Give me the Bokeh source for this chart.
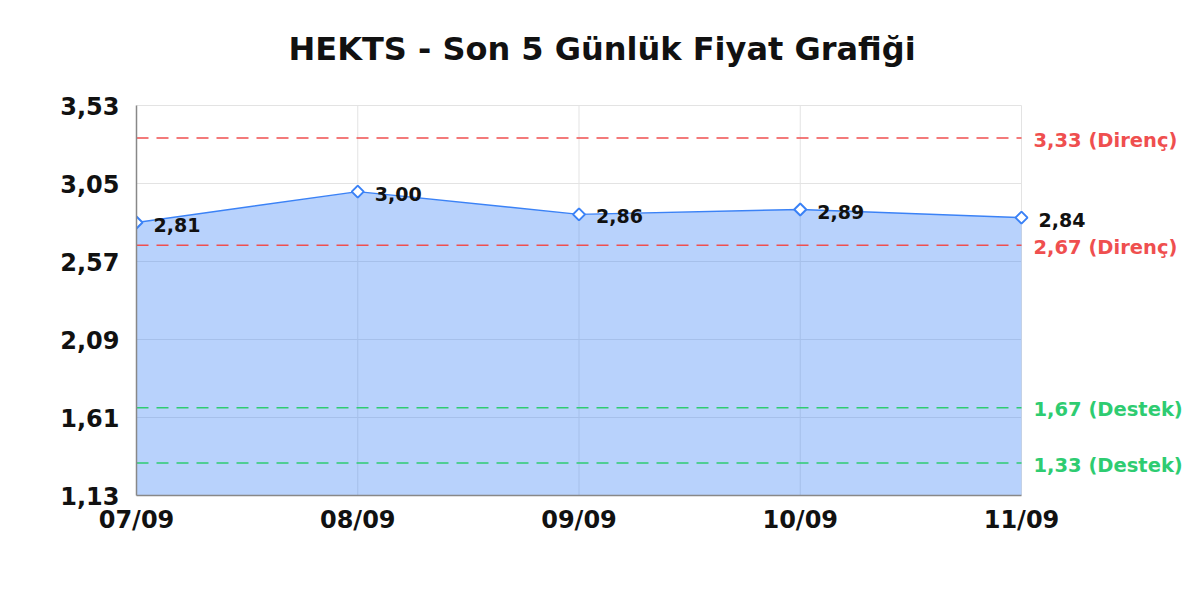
from bokeh.plotting import figure
from bokeh.models import (Range1d, FixedTicker, CustomJSTickFormatter, Label,
                          LabelSet, ColumnDataSource)
from bokeh.core.properties import value
from bokeh.embed import file_html
from bokeh.resources import INLINE
import numpy as np

# ---- data ----
title_text = "HEKTS - Son 5 Günlük Fiyat Grafiği"
dates = ["07/09", "08/09", "09/09", "10/09", "11/09"]
prices = [2.81, 3.00, 2.86, 2.89, 2.84]
y_ticks = [1.13, 1.61, 2.09, 2.57, 3.05, 3.53]
resistance_levels = [3.33, 2.67]
support_levels = [1.67, 1.33]

FONT = "DejaVu Sans"
BLUE = "#3b82f6"
RED = "#ef4f4f"
GREEN = "#2ecc71"
GRID = "#e3e3e3"

W, H = 1192, 592
LEFT = 136
PLOT_RIGHT = 1021     # pixel where the last date sits
PLOT_TOP = 105        # pixel where the top tick sits
BOTTOM = 97
PLOT_BOTTOM = H - BOTTOM

x = list(range(len(dates)))
ymin, ymax = y_ticks[0], y_ticks[-1]
x0, x1 = x[0], x[-1]
# frame extends to the figure's right and top edges so outer texts are not clipped
x_end = x0 + (x1 - x0) * (W - LEFT) / (PLOT_RIGHT - LEFT)
y_end = ymin + (ymax - ymin) * PLOT_BOTTOM / (PLOT_BOTTOM - PLOT_TOP)

p = figure(width=W, height=H, output_backend="svg", toolbar_location=None,
           x_range=Range1d(x0, x_end), y_range=Range1d(ymin, y_end),
           min_border_left=LEFT, min_border_right=0, min_border_top=0,
           min_border_bottom=BOTTOM)
p.title = None
p.outline_line_color = None
p.background_fill_color = "white"

# grid lines limited to the data span
p.segment(x0=[x0] * len(y_ticks), x1=[x1] * len(y_ticks), y0=y_ticks, y1=y_ticks,
          line_color=GRID, line_width=1)
p.segment(x0=x, x1=x, y0=[ymin] * len(x), y1=[ymax] * len(x),
          line_color=GRID, line_width=1)

# area + line
p.varea(x=x, y1=[ymin] * len(x), y2=prices, fill_color=BLUE, fill_alpha=0.36)
p.line(x, prices, line_color=BLUE, line_width=1.5)

# reference lines
for lvl in resistance_levels:
    p.line([x0, x1], [lvl, lvl], line_color=RED, line_width=1.5, line_dash="12 8")
    p.add_layout(Label(x=x1, y=lvl, x_offset=12, y_offset=-2,
                       text=f"{lvl:.2f}".replace(".", ",") + " (Direnç)",
                       text_baseline="middle", text_align="left", text_font=FONT,
                       text_font_style="bold", text_font_size="19.5px", text_color=RED))
for lvl in support_levels:
    p.line([x0, x1], [lvl, lvl], line_color=GREEN, line_width=1.5, line_dash="12 8")
    p.add_layout(Label(x=x1, y=lvl, x_offset=12, y_offset=-2,
                       text=f"{lvl:.2f}".replace(".", ",") + " (Destek)",
                       text_baseline="middle", text_align="left", text_font=FONT,
                       text_font_style="bold", text_font_size="19.5px", text_color=GREEN))

# markers
p.scatter(x, prices, marker="square", angle=np.pi / 4, size=8.5,
          fill_color="white", line_color=BLUE, line_width=2)

# data labels
src = ColumnDataSource(dict(x=x, y=prices,
                            t=[f"{v:.2f}".replace(".", ",") for v in prices]))
p.add_layout(LabelSet(x="x", y="y", text="t", source=src, x_offset=17, y_offset=-2,
                      text_baseline="middle", text_align="left",
                      text_font=value(FONT), text_font_style="bold",
                      text_font_size="19px", text_color="#111111"))

# title (inside the extended frame, above the plot area)
p.add_layout(Label(x=x0, y=ymax, x_offset=288 - LEFT, y_offset=57,
                   text=title_text, text_align="left", text_baseline="middle",
                   text_font=FONT, text_font_style="bold", text_font_size="32px",
                   text_color="#111111"))

# axes
p.xaxis.ticker = FixedTicker(ticks=x)
p.xaxis.major_label_overrides = {i: d for i, d in zip(x, dates)}
p.xaxis.bounds = (x0, x1)
p.yaxis.ticker = FixedTicker(ticks=y_ticks)
p.yaxis.bounds = (ymin, ymax)
p.yaxis.formatter = CustomJSTickFormatter(code="return tick.toFixed(2).replace('.', ',');")
for ax in (p.xaxis, p.yaxis):
    ax.axis_line_color = "#888888"
    ax.axis_line_width = 1.5
    ax.major_tick_line_color = None
    ax.minor_tick_line_color = None
    ax.major_tick_out = 0
    ax.major_tick_in = 0
    ax.major_label_text_font = FONT
    ax.major_label_text_font_style = "bold"
    ax.major_label_text_font_size = "24px"
    ax.major_label_text_color = "#111111"
p.yaxis.major_label_standoff = 17
p.xaxis.major_label_standoff = 10

p.xgrid.grid_line_color = None
p.ygrid.grid_line_color = None

open("out.html", "w").write(file_html(p, INLINE))
